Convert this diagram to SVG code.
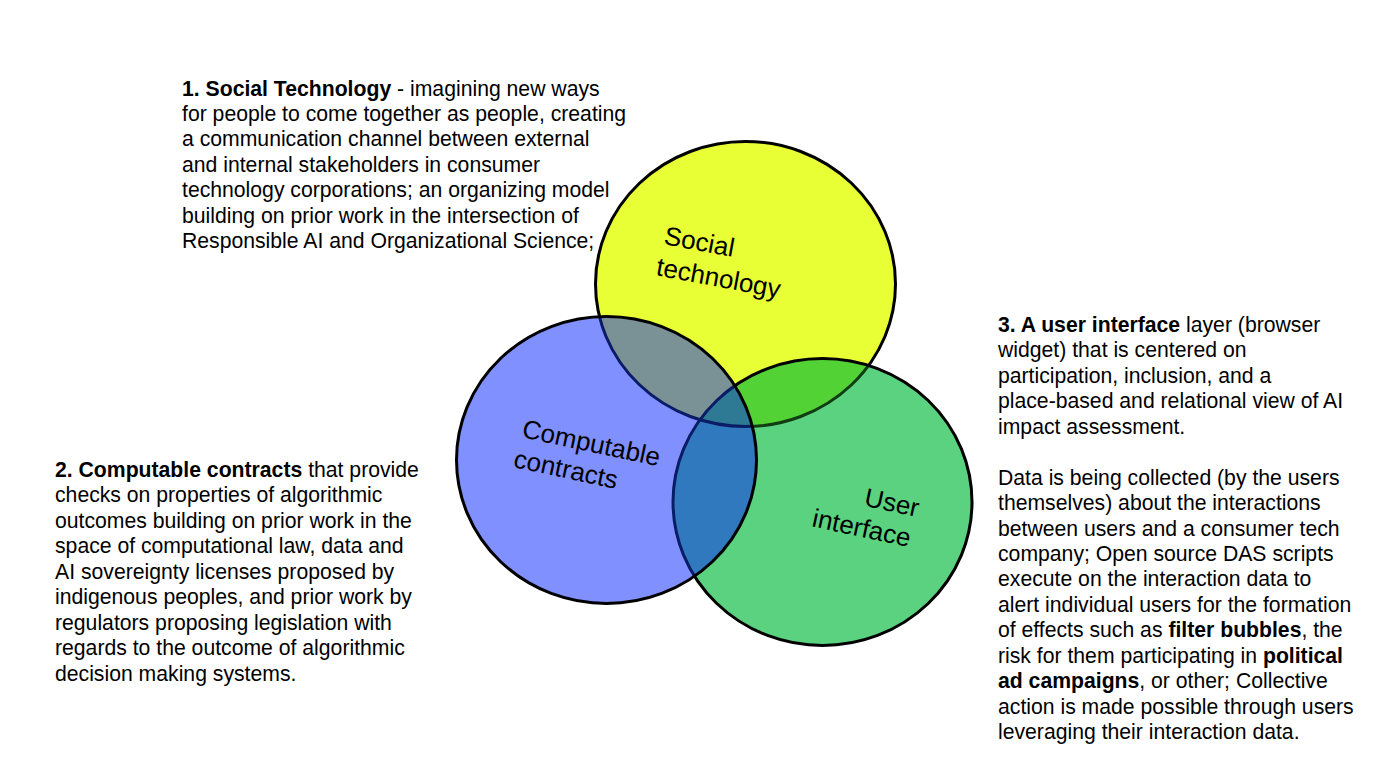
<svg xmlns="http://www.w3.org/2000/svg" xmlns:xlink="http://www.w3.org/1999/xlink" width="1385" height="774" viewBox="0 0 1385 774">
<style>
.t{font-family:"Liberation Sans",Arial,sans-serif;font-size:21.2px;fill:#000}
.b{font-weight:bold}
.lbl{font-family:"Liberation Sans",Arial,sans-serif;font-size:26px;fill:#000}
.edge{fill:none;stroke:#000;stroke-width:3}
</style>
<defs>
<ellipse id="eY" cx="745.5" cy="284" rx="150" ry="142.5"/>
<ellipse id="eG" cx="822.5" cy="502" rx="149.5" ry="143.5"/>
<ellipse id="eB" cx="606.5" cy="460" rx="150" ry="143.5"/>
<clipPath id="cG"><use xlink:href="#eG"/></clipPath>
<clipPath id="cB"><use xlink:href="#eB"/></clipPath>
</defs>
<rect width="1385" height="774" fill="#fff"/>

<g id="node-social">
<use xlink:href="#eY" fill="#e9ff35"/>
<use xlink:href="#eY" class="edge"/>
<text class="lbl" transform="translate(663,244) rotate(10.5)"><tspan x="0" y="0">Social</tspan><tspan x="-2" y="32">technology</tspan></text>
</g>

<g id="node-ui">
<use xlink:href="#eG" fill="#5bd27f"/>
<use xlink:href="#eY" fill="#53d235" clip-path="url(#cG)"/>
<use xlink:href="#eY" fill="none" stroke="#103d12" stroke-width="3" clip-path="url(#cG)"/>
<use xlink:href="#eG" class="edge"/>
<text class="lbl" text-anchor="end" transform="translate(917,517) rotate(12)"><tspan x="0" y="0">User</tspan><tspan x="-2" y="31">interface</tspan></text>
</g>

<g id="node-contracts">
<use xlink:href="#eB" fill="#8090ff"/>
<use xlink:href="#eY" fill="#7a9196" clip-path="url(#cB)"/>
<use xlink:href="#eG" fill="#3179be" clip-path="url(#cB)"/>
<g clip-path="url(#cB)"><use xlink:href="#eY" fill="#2e7a94" clip-path="url(#cG)"/></g>
<g clip-path="url(#cB)">
<use xlink:href="#eY" fill="none" stroke="#0a1c66" stroke-width="3"/>
<use xlink:href="#eG" fill="none" stroke="#0a1c66" stroke-width="3"/>
</g>
<use xlink:href="#eB" class="edge"/>
<text class="lbl" transform="translate(521,437) rotate(12)"><tspan x="0" y="0">Computable</tspan><tspan x="-2" y="31">contracts</tspan></text>
</g>

<g id="connectors"/>

<g id="text-social">
<text class="t" x="182" y="95.5">
<tspan class="b">1. Social Technology</tspan> - imagining new ways
<tspan x="182" dy="25.44">for people to come together as people, creating</tspan>
<tspan x="182" dy="25.44">a communication channel between external</tspan>
<tspan x="182" dy="25.44">and internal stakeholders in consumer</tspan>
<tspan x="182" dy="25.44">technology corporations; an organizing model</tspan>
<tspan x="182" dy="25.44">building on prior work in the intersection of</tspan>
<tspan x="182" dy="25.44">Responsible AI and Organizational Science;</tspan>
</text>
</g>

<g id="text-contracts">
<text class="t" x="55" y="477">
<tspan class="b">2. Computable contracts</tspan> that provide
<tspan x="55" dy="25.44">checks on properties of algorithmic</tspan>
<tspan x="55" dy="25.44">outcomes building on prior work in the</tspan>
<tspan x="55" dy="25.44">space of computational law, data and</tspan>
<tspan x="55" dy="25.44">AI sovereignty licenses proposed by</tspan>
<tspan x="55" dy="25.44">indigenous peoples, and prior work by</tspan>
<tspan x="55" dy="25.44">regulators proposing legislation with</tspan>
<tspan x="55" dy="25.44">regards to the outcome of algorithmic</tspan>
<tspan x="55" dy="25.44">decision making systems.</tspan>
</text>
</g>

<g id="text-ui">
<text class="t" x="998" y="332">
<tspan class="b">3. A user interface</tspan> layer (browser
<tspan x="998" dy="25.44">widget) that is centered on</tspan>
<tspan x="998" dy="25.44">participation, inclusion, and a</tspan>
<tspan x="998" dy="25.44">place-based and relational view of AI</tspan>
<tspan x="998" dy="25.44">impact assessment.</tspan>
<tspan x="998" dy="50.88">Data is being collected (by the users</tspan>
<tspan x="998" dy="25.44">themselves) about the interactions</tspan>
<tspan x="998" dy="25.44">between users and a consumer tech</tspan>
<tspan x="998" dy="25.44">company; Open source DAS scripts</tspan>
<tspan x="998" dy="25.44">execute on the interaction data to</tspan>
<tspan x="998" dy="25.44">alert individual users for the formation</tspan>
<tspan x="998" dy="25.44">of effects such as <tspan class="b">filter bubbles</tspan>, the</tspan>
<tspan x="998" dy="25.44">risk for them participating in <tspan class="b">political</tspan></tspan>
<tspan x="998" dy="25.44"><tspan class="b">ad campaigns</tspan>, or other; Collective</tspan>
<tspan x="998" dy="25.44">action is made possible through users</tspan>
<tspan x="998" dy="25.44">leveraging their interaction data.</tspan>
</text>
</g>
</svg>
